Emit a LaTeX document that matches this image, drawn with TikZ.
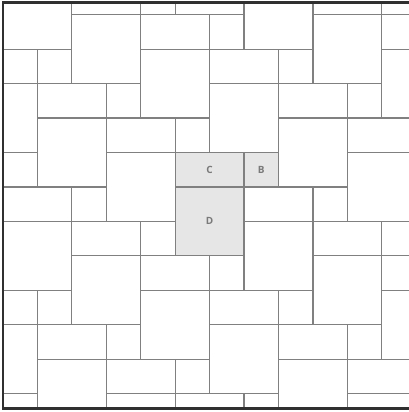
\documentclass[tikz,border=0pt]{standalone}
\usepackage{fontspec}
\setsansfont{Open Sans}
\definecolor{gridgray}{HTML}{808080}
\definecolor{tilegray}{HTML}{E6E6E6}
\definecolor{framegray}{HTML}{303030}
\definecolor{labelgray}{HTML}{7A7A7A}
\begin{document}
\begin{tikzpicture}[x=1pt,y=-1pt,
  gridline/.style={draw=gridgray,line width=1.2pt},
  shaded/.style={fill=tilegray},
  frameline/.style={draw=framegray,line width=2.6pt},
  tilelabel/.style={font=\sffamily\bfseries\fontsize{10}{10}\selectfont,text=labelgray,inner sep=0pt}]
\def\U{34.45}
\def\XO{2.9}
\def\YO{14.7}
\useasboundingbox (0,0) rectangle (409,412);
\begin{scope}
\clip (2.9,2.5) rectangle (409,408.5);
% shaded tiles C, B, D
\fill[shaded] (\XO+5*\U,\YO+4*\U) rectangle (\XO+7*\U,\YO+5*\U);
\fill[shaded] (\XO+7*\U,\YO+4*\U) rectangle (\XO+8*\U,\YO+5*\U);
\fill[shaded] (\XO+5*\U,\YO+5*\U) rectangle (\XO+7*\U,\YO+7*\U);
% horizontal joints
\foreach \k in {0,...,11}{
  \foreach \m in {-5,...,1}{
    \pgfmathsetmacro\xa{\XO+\U*(2+2*\k+7*\m)}
    \pgfmathsetmacro\xb{\XO+\U*(7+2*\k+7*\m)}
    \pgfmathsetmacro\yy{\YO+\U*\k}
    \draw[gridline] (\xa,\yy) -- (\xb,\yy);
  }
}
% vertical joints
\foreach \j in {1,...,11}{
  \foreach \m in {-8,...,2}{
    \pgfmathsetmacro\ya{\YO+\U*(4*\j-3+7*\m)}
    \pgfmathsetmacro\yb{\YO+\U*(4*\j+1+7*\m)}
    \pgfmathsetmacro\xx{\XO+\U*\j}
    \draw[gridline] (\xx,\ya) -- (\xx,\yb);
  }
}
\end{scope}
% frame
\coordinate (tr) at (411,2.5);
\coordinate (tl) at (2.9,2.5);
\coordinate (bl) at (2.9,408.5);
\coordinate (br) at (411,408.5);
\draw[frameline] (tr) -- (tl) -- (bl) -- (br);
% labels
\node[tilelabel] (C) at (\XO+6*\U,\YO+4.5*\U) {C};
\node[tilelabel] (B) at (\XO+7.5*\U,\YO+4.5*\U) {B};
\node[tilelabel] (D) at (\XO+6*\U,\YO+6*\U) {D};
\end{tikzpicture}
\end{document}
